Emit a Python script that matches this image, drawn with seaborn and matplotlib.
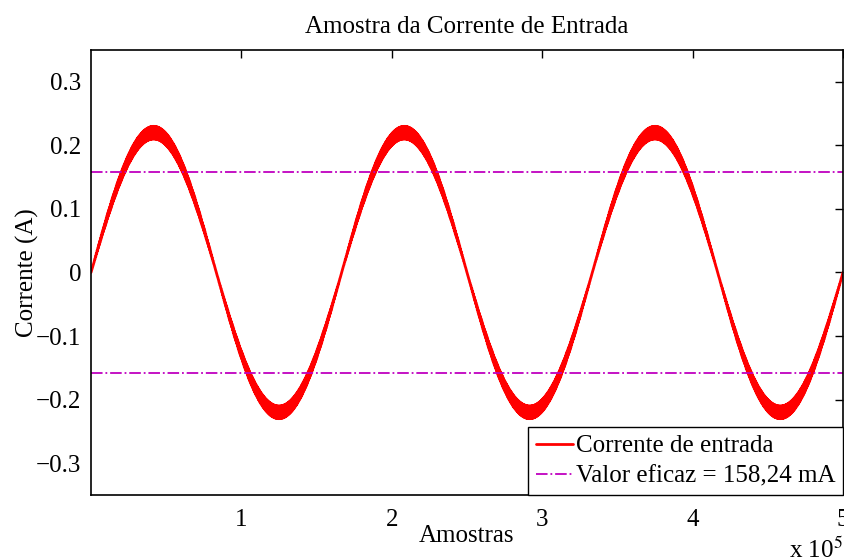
import numpy as np
import pandas as pd
import matplotlib
matplotlib.use("Agg")
import matplotlib.pyplot as plt
import seaborn as sns

# signal description
n_samples = 500000
n_periods = 3
amp_low = 0.21      # inner edge of the band at the peaks
amp_high = 0.23     # outer edge of the band at the peaks
ripple_cycles = 900
rms_value = 0.15824  # 158,24 mA

x_ticks = [1e5, 2e5, 3e5, 4e5, 5e5]
x_tick_labels = ["1", "2", "3", "4", "5"]
y_ticks = [-0.3, -0.2, -0.1, 0.0, 0.1, 0.2, 0.3]
y_tick_labels = ["\u22120.3", "\u22120.2", "\u22120.1", "0", "0.1", "0.2", "0.3"]

# ------------ build the sampled current -------------
n_plot = 60000
samples = np.linspace(0, n_samples, n_plot)
phase = samples / n_samples
amp = (amp_low + amp_high) / 2 + (amp_high - amp_low) / 2 * np.sin(2 * np.pi * ripple_cycles * phase)
current = amp * np.sin(2 * np.pi * n_periods * phase)
df = pd.DataFrame({"Amostras": samples, "Corrente": current})

sns.set_style("white")
plt.rcParams["font.family"] = ["Liberation Serif", "DejaVu Serif"]
plt.rcParams["mathtext.fontset"] = "stix"
plt.rcParams["text.color"] = "black"
plt.rcParams["axes.labelcolor"] = "black"
plt.rcParams["xtick.color"] = "black"
plt.rcParams["ytick.color"] = "black"

fs = 18

fig = plt.figure(figsize=(8.45, 5.6), dpi=100)
ax = fig.add_axes([0.1077, 0.1161, 0.8899, 0.7946])

sns.lineplot(data=df, x="Amostras", y="Corrente", ax=ax, color="red",
             linewidth=2, estimator=None, sort=False, label="Corrente de entrada")
ax.axhline(rms_value, color="#bf00bf", linestyle="-.", linewidth=1.3,
           label="Valor eficaz = 158,24 mA")
ax.axhline(-rms_value, color="#bf00bf", linestyle="-.", linewidth=1.3)

ax.set_xlim(0, n_samples)
ax.set_ylim(-0.35, 0.35)
ax.set_xticks(x_ticks)
ax.set_xticklabels(x_tick_labels)
ax.set_yticks(y_ticks)
ax.set_yticklabels(y_tick_labels)
ax.tick_params(direction="in", length=6, width=1, labelsize=fs, color="black",
               top=True, right=True)
ax.tick_params(axis="x", pad=10)
ax.tick_params(axis="y", pad=7)

for sp in ax.spines.values():
    sp.set_visible(True)
    sp.set_color("black")
    sp.set_linewidth(1.2)

ax.set_title("Amostra da Corrente de Entrada", fontsize=fs, pad=12)
ax.set_xlabel("Amostras", fontsize=fs, labelpad=-4)
ax.set_ylabel("Corrente (A)", fontsize=fs, labelpad=-2)
fig.text(0.997, -0.005, "x 10$^5$", ha="right", va="bottom", fontsize=fs)

leg = ax.legend(loc="lower right", fontsize=fs, frameon=True, fancybox=False,
                borderaxespad=0, handlelength=1.5, handletextpad=0.1,
                borderpad=0.3, labelspacing=0.3)
leg.get_frame().set_edgecolor("black")
leg.get_frame().set_linewidth(1.0)
leg.get_frame().set_alpha(1)

fig.savefig("out.png", dpi=100, facecolor="white")
